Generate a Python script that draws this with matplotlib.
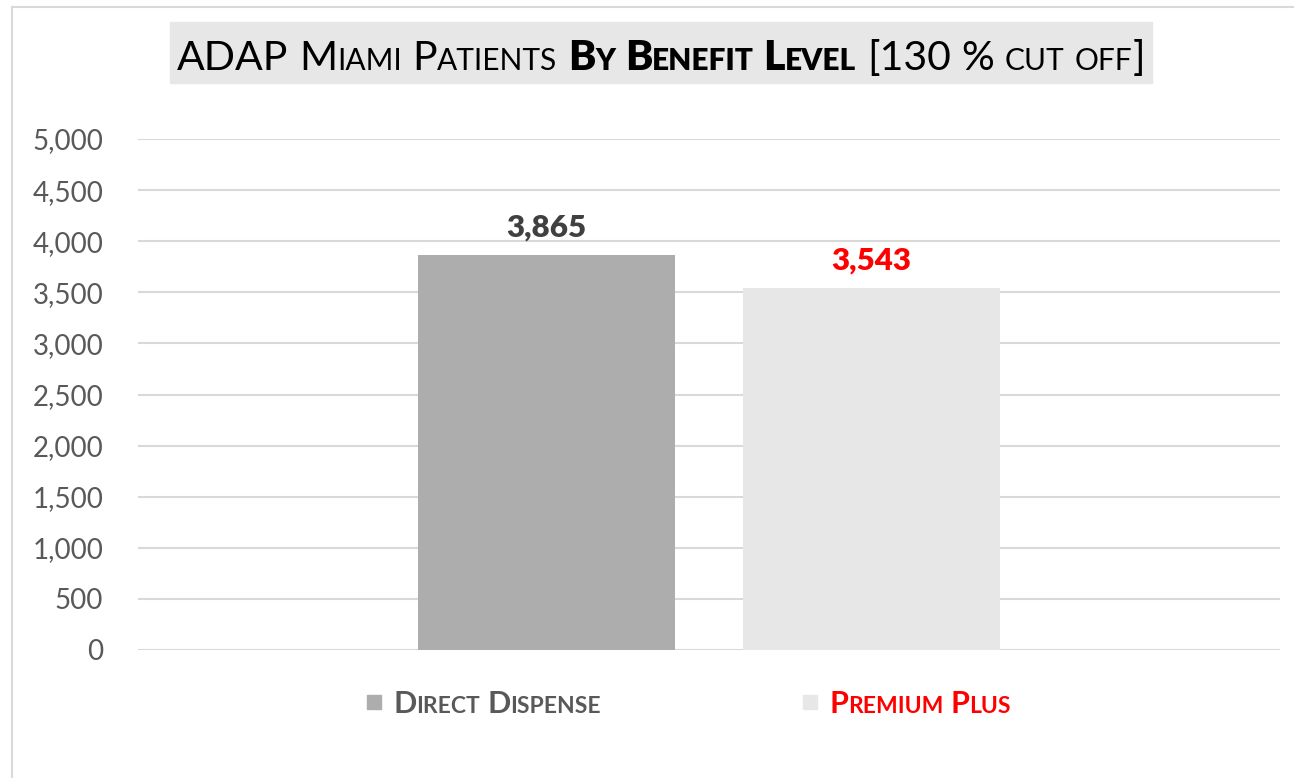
import matplotlib
matplotlib.use("Agg")
import matplotlib.pyplot as plt
from matplotlib.patches import Rectangle
from matplotlib.lines import Line2D

# ---------- Dados ----------
series_names = ["Direct Dispense", "Premium Plus"]
patients = [3865, 3543]
bar_colors = ["#adadad", "#e7e7e7"]
label_colors = ["#404040", "#ff0000"]
legend_colors = ["#595959", "#ff0000"]
y_ticks = list(range(0, 5001, 500))

FONT = ["Lato", "DejaVu Sans"]
W, H = 1294, 778


# ---------- Versaletes (small caps) feitos à mão ----------
def smallcaps_runs(text, big, small):
    runs = []
    for ch in text:
        if ch == " ":
            runs.append((" ", big))
            continue
        size = small if ch.islower() else big
        ch = ch.upper()
        if runs and runs[-1][1] == size and runs[-1][0] != " ":
            runs[-1] = (runs[-1][0] + ch, size)
        else:
            runs.append((ch, size))
    return runs


def measure(fig, renderer, s, size, weight):
    t = fig.text(0, 0, s, fontsize=size, weight=weight, family=FONT)
    w = t.get_window_extent(renderer).width
    t.remove()
    return w


def draw_smallcaps(fig, segments, x_px, y_px, ha="left"):
    renderer = fig.canvas.get_renderer()
    pieces = []
    for text, weight, color, big, small in segments:
        for s, size in smallcaps_runs(text, big, small):
            if s == " ":
                w = measure(fig, renderer, "x x", size, weight) - measure(fig, renderer, "xx", size, weight)
            else:
                w = measure(fig, renderer, s + "|", size, weight) - measure(fig, renderer, "|", size, weight)
            pieces.append((s, size, weight, color, w))
    total = sum(p[4] for p in pieces)
    x = x_px - total / 2 if ha == "center" else x_px
    for s, size, weight, color, w in pieces:
        if s != " ":
            fig.text(x / W, 1 - y_px / H, s, fontsize=size, weight=weight, color=color,
                     family=FONT, ha="left", va="baseline")
        x += w
    return total


fig = plt.figure(figsize=(W / 100, H / 100), dpi=100)

# moldura do gráfico (só topo e esquerda visíveis)
fig.add_artist(Line2D([12 / W, 12 / W], [0, 1 - 7 / H], transform=fig.transFigure, color="#d9d9d9", lw=1.5))
fig.add_artist(Line2D([12 / W, 1], [1 - 7 / H, 1 - 7 / H], transform=fig.transFigure, color="#d9d9d9", lw=1.5))

ax = fig.add_axes([138 / W, 1 - 650 / H, (1280 - 138) / W, (650 - 139) / H])

bar_w = 0.225
gap = 0.06
for i, (name, val) in enumerate(zip(series_names, patients)):
    xpos = (i - 0.5) * (bar_w + gap)
    ax.bar(xpos, val, width=bar_w, color=bar_colors[i], zorder=2)
    ax.annotate(f"{val:,}", (xpos, val), xytext=(0, 13.5), textcoords="offset points",
                ha="center", va="baseline", fontsize=22.5, weight="heavy",
                color=label_colors[i], family=FONT)

ax.set_xlim(-0.5, 0.5)
ax.set_ylim(0, 5000)
ax.set_yticks(y_ticks)
ax.set_yticklabels([f"{v:,}" for v in y_ticks], family=FONT)
ax.set_xticks([])
ax.tick_params(axis="y", length=0, pad=25, labelsize=20, labelcolor="#595959")
ax.grid(axis="y", color="#d9d9d9", lw=1.5, zorder=0)
for sp in ax.spines.values():
    sp.set_visible(False)
ax.set_facecolor("none")

# título
fig.add_artist(Rectangle((170 / W, 1 - 83 / H), (1152 - 170) / W, (83 - 22) / H,
                         transform=fig.transFigure, color="#e7e7e7", zorder=0))
draw_smallcaps(fig, [
    ("ADAP Miami Patients ", "normal", "black", 29.5, 21.5),
    ("By Benefit Level", "heavy", "black", 29.5, 21.5),
    (" [130 % cut off]", "normal", "black", 29.5, 21.5),
], 661, 70, ha="center")

# legenda
legend_x = [367, 803]
text_x = [393, 829]
for i, name in enumerate(series_names):
    fig.add_artist(Rectangle((legend_x[i] / W, 1 - 709 / H), 14 / W, 14 / H,
                             transform=fig.transFigure, color=bar_colors[i]))
    draw_smallcaps(fig, [(name, "bold", legend_colors[i], 22, 16.5)], text_x[i], 713)

fig.savefig("out.png", dpi=100)
